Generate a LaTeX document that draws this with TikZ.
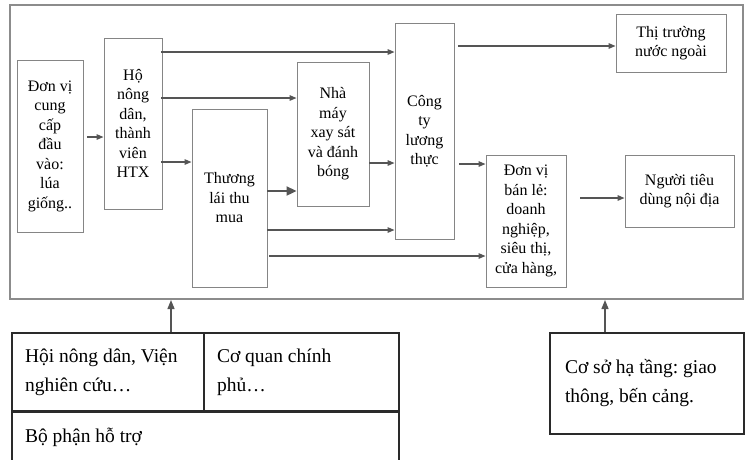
\documentclass[tikz,border=0pt]{standalone}
\usepackage{fontspec}
\setmainfont{Liberation Serif}
\frenchspacing
\usetikzlibrary{arrows.meta,calc}
\definecolor{boxgray}{HTML}{858585}
\definecolor{framegray}{HTML}{8C8C8C}
\definecolor{arrgray}{HTML}{555555}
\definecolor{lineblk}{HTML}{2A2A2A}
\begin{document}
\begin{tikzpicture}[x=1pt,y=-1pt,
  frame/.style={draw=framegray, line width=2pt, inner sep=0pt},
  box/.style={draw=boxgray, line width=0.9pt, fill=white, align=center, inner sep=1pt,
    font=\fontsize{16}{19.5}\selectfont},
  arr/.style={draw=arrgray, line width=1.3pt, -{Triangle[length=7pt,width=5.5pt]}},
  thickarr/.style={draw=arrgray, line width=2pt, -{Triangle[length=10pt,width=9pt]}},
  uparr/.style={draw=arrgray, line width=1.3pt, -{Triangle[length=9pt,width=7pt]}},
  cell/.style={draw=lineblk, line width=1.1pt, inner xsep=13pt, inner ysep=0pt, align=flush left,
    font=\fontsize{19.5}{29}\selectfont}
]
\clip (0,0) rectangle (746,459);
\fill[white] (0,0) rectangle (746,459);

% outer frame
\node[frame, minimum width=733pt, minimum height=294pt] (fr) at (376.5,152) {};

% boxes
\node[box, minimum width=66pt, minimum height=172pt] (dv) at (50,146)
  {Đơn vị\\cung\\cấp\\đầu\\vào:\\lúa\\giống..};
\node[box, minimum width=58pt, minimum height=171pt] (hd) at (133,123.5)
  {Hộ\\nông\\dân,\\thành\\viên\\HTX};
\node[box, minimum width=75pt, minimum height=178pt] (tl) at (229.5,198)
  {Thương\\lái thu\\mua};
\node[box, minimum width=72pt, minimum height=144pt] (nm) at (333,134)
  {Nhà\\máy\\xay sát\\và đánh\\bóng};
\node[box, minimum width=59pt, minimum height=216pt] (ct) at (424.5,131)
  {Công\\ty\\lương\\thực};
\node[box, minimum width=110pt, minimum height=58pt] (tt) at (671,43)
  {Thị trường\\nước ngoài};
\node[box, minimum width=80pt, minimum height=132pt] (bl) at (526,221)
  {Đơn vị\\bán lẻ:\\doanh\\nghiệp,\\siêu thị,\\cửa hàng,};
\node[box, minimum width=109pt, minimum height=72pt] (nt) at (679.5,191)
  {Người tiêu\\dùng nội địa};

% arrows inside
\draw[arr] ($(dv.east |- 0,137)+(4,0)$) -- (hd.west |- 0,137);
\draw[arr] ($(hd.east |- 0,52)+(-1,0)$) -- (ct.west |- 0,52);
\draw[arr] ($(hd.east |- 0,98)+(-1,0)$) -- (nm.west |- 0,98);
\draw[arr] ($(hd.east |- 0,162)+(-1,0)$) -- (tl.west |- 0,162);
\draw[thickarr] (tl.east |- 0,191) -- (nm.west |- 0,191);
\draw[arr] (nm.east |- 0,163) -- (ct.west |- 0,163);
\draw[arr] (tl.east |- 0,230) -- (ct.west |- 0,230);
\draw[arr] ($(tl.east |- 0,256)+(2,0)$) -- (bl.west |- 0,256);
\draw[arr] ($(ct.east |- 0,46)+(4,0)$) -- (tt.west |- 0,46);
\draw[arr] ($(ct.east |- 0,164)+(5,0)$) -- (bl.west |- 0,164);
\draw[arr] ($(bl.east |- 0,198)+(14,0)$) -- (nt.west |- 0,198);

% bottom left table
\node[cell, minimum width=192pt, minimum height=79pt, text width=166pt] (c1) at (108,372.5)
  {Hội nông dân, Viện\\nghiên cứu…};
\node[cell, minimum width=195pt, minimum height=79pt, text width=169pt] (c2) at (301.5,372.5)
  {Cơ quan chính\\phủ…};
\node[cell, minimum width=387pt, minimum height=50pt, text width=361pt] (c3) at (205.5,437)
  {Bộ phận hỗ trợ};
\draw[lineblk, line width=2pt] (c3.north west) -- (c3.north east);

% bottom right box
\node[cell, minimum width=190pt, minimum height=101pt, text width=164pt, inner xsep=15pt] (cs) at (647,383.5)
  {\raisebox{-17pt}{\parbox{164pt}{\raggedright Cơ sở hạ tầng: giao\\thông, bến cảng.}}};

% up arrows
\draw[uparr] (c1.north -| 171,0) -- (fr.south -| 171,0);
\draw[uparr] (cs.north -| 605,0) -- (fr.south -| 605,0);
\end{tikzpicture}
\end{document}
